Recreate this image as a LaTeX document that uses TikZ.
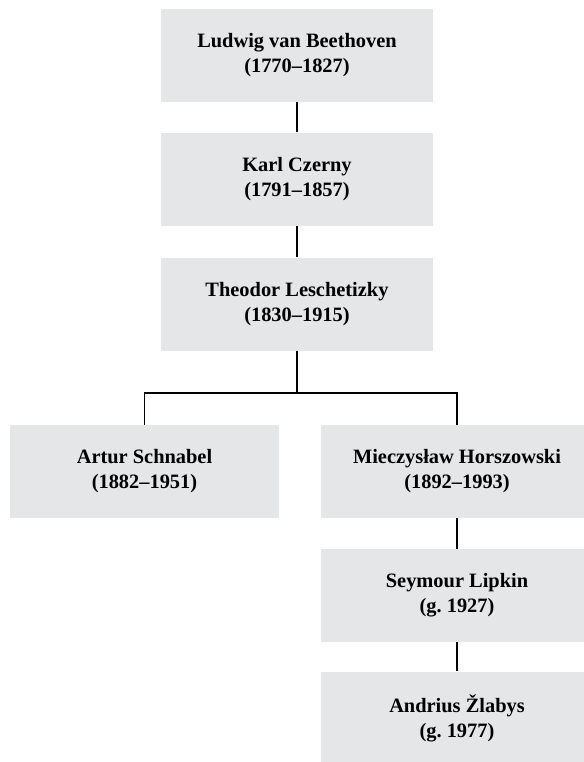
\documentclass[tikz,border=0pt]{standalone}
\usepackage{fontspec}
\setmainfont{Liberation Serif}
\usepackage{xcolor}
\usepackage{tikz}
\definecolor{boxgray}{RGB}{229,230,232}

\begin{document}
\begin{tikzpicture}[x=0.5pt,y=-0.5pt,
  person/.style={fill=boxgray,minimum width=136pt,minimum height=46.5pt,
    inner sep=0pt,align=center,font=\bfseries\fontsize{10.2}{12.5}\selectfont},
  link/.style={black,line width=0.55pt}]
\useasboundingbox (0,0) rectangle (584,762);
% main line
\node[person] (beethoven) at (297,55) {Ludwig van Beethoven\\(1770--1827)};
\node[person] (czerny) at (297,179) {Karl Czerny\\(1791--1857)};
\node[person] (leschetizky) at (297,304) {Theodor Leschetizky\\(1830--1915)};
% pupils
\node[person,minimum width=134.5pt] (schnabel) at (144.5,471.5) {Artur Schnabel\\(1882--1951)};
\node[person] (horszowski) at (457,471.5) {Mieczysław Horszowski\\(1892--1993)};
\node[person] (lipkin) at (457,595.5) {Seymour Lipkin\\(g.\ 1927)};
\node[person] (zlabys) at (457,718) {Andrius Žlabys\\(g.\ 1977)};
\coordinate (fork) at (297,393);
\draw[link] (beethoven) -- (czerny);
\draw[link] (czerny) -- (leschetizky);
\draw[link] (leschetizky) -- (fork);
\draw[link] (schnabel.north) |- (fork) -| (horszowski.north);
\draw[link] (horszowski) -- (lipkin);
\draw[link] (lipkin) -- (zlabys);
\end{tikzpicture}
\end{document}
